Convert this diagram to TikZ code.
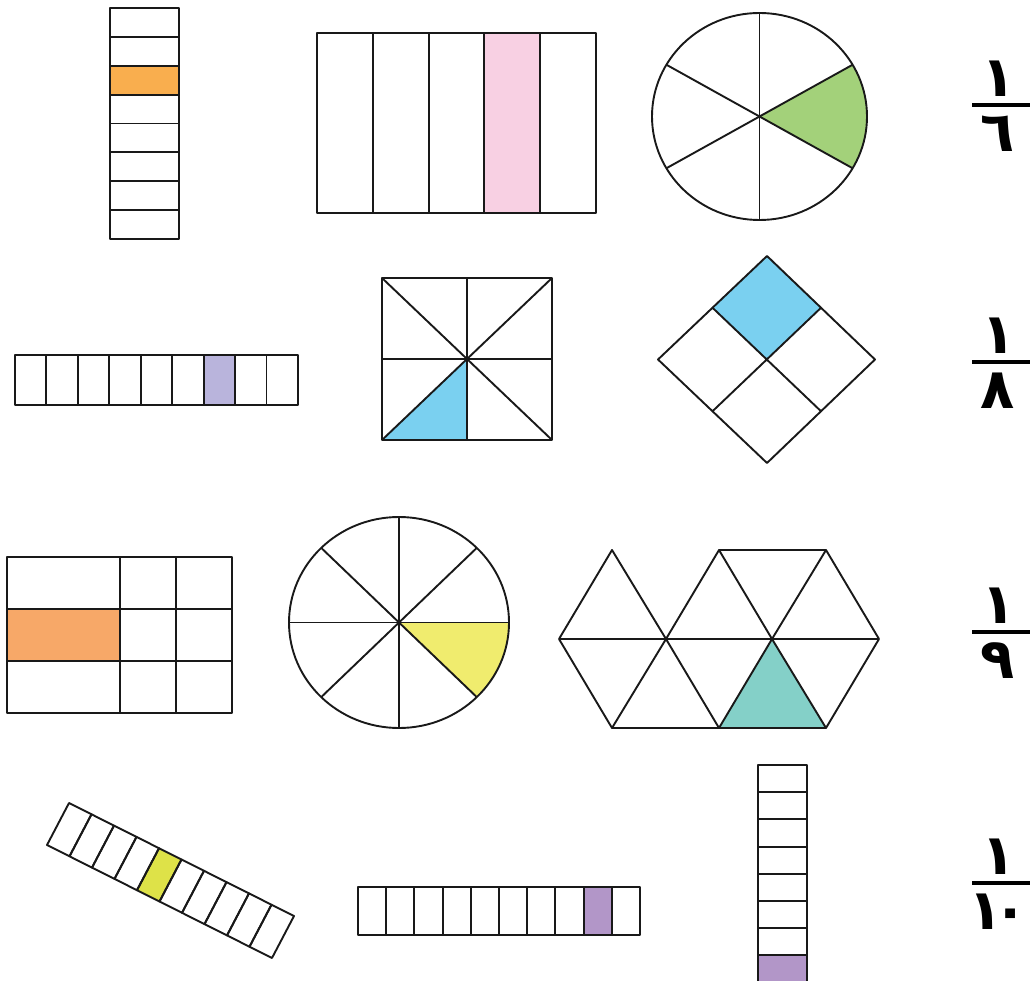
\documentclass[tikz,border=0pt]{standalone}
\usepackage{fontspec}
\newfontfamily\arabicfont[Script=Arabic]{DejaVu Sans}
\usetikzlibrary{calc}

\definecolor{orangeS}{RGB}{249,174,78}
\definecolor{pinkS}{RGB}{248,208,227}
\definecolor{greenS}{RGB}{163,209,122}
\definecolor{lavS}{RGB}{185,180,220}
\definecolor{blueS}{RGB}{122,208,240}
\definecolor{salmonS}{RGB}{247,168,104}
\definecolor{yellowS}{RGB}{240,236,110}
\definecolor{tealS}{RGB}{132,208,200}
\definecolor{limeS}{RGB}{222,226,72}
\definecolor{purpleS}{RGB}{178,150,200}

\begin{document}
\begin{tikzpicture}[x=1pt, y=-1pt, line join=round]
\tikzset{cell/.style={draw=black!90, line width=1.9pt}, num/.style={font=\arabicfont\bfseries\fontsize{56}{56}\selectfont, inner sep=0pt}, bar/.style={line width=3.5pt}}
\useasboundingbox (0,0) rectangle (1030,981);

% row 1/6
\fill[orangeS] (110,65.75) rectangle ++(69,28.875);
\foreach \i in {0,...,7} \draw[cell] (110,{8+28.875*\i}) rectangle ++(69,28.875);
\fill[pinkS] (484.4,33) rectangle ++(55.8,180);
\foreach \i in {0,...,4} \draw[cell] ({317+55.8*\i},33) rectangle ++(55.8,180);
\coordinate (c6) at (759.5,116.5);
\fill[greenS] (c6) -- ($(c6)+(-30:107.5 and 103.5)$) arc[start angle=-30, end angle=30, x radius=107.5, y radius=103.5] -- cycle;
\draw[cell] (c6) ellipse [x radius=107.5, y radius=103.5];
\foreach \a in {90,30,-30} \draw[cell] ($(c6)+(\a:107.5 and 103.5)$) -- ($(c6)+(\a+180:107.5 and 103.5)$);

% row 1/8
\fill[lavS] (203.4,355) rectangle ++(31.44,50);
\foreach \i in {0,...,8} \draw[cell] ({15+31.44*\i},355) rectangle ++(31.44,50);
\fill[blueS] (382,440) -- (467,359) -- (467,440) -- cycle;
\draw[cell] (382,278) rectangle (552,440);
\draw[cell] (467,278) -- (467,440) (382,359) -- (552,359) (382,278) -- (552,440) (382,440) -- (552,278);
\coordinate (T) at (767,256); \coordinate (L) at (658,359.5); \coordinate (R) at (875,359.5); \coordinate (B) at (767,463);
\coordinate (O) at (767,359.5);
\fill[blueS] (T) -- ($(T)!.5!(R)$) -- (O) -- ($(T)!.5!(L)$) -- cycle;
\draw[cell] (T) -- (R) -- (B) -- (L) -- cycle;
\draw[cell] ($(T)!.5!(L)$) -- ($(R)!.5!(B)$) ($(T)!.5!(R)$) -- ($(L)!.5!(B)$);

% row 1/9
\fill[salmonS] (7,609) rectangle (120,661);
\draw[cell] (7,557) rectangle (232,713);
\draw[cell] (7,609) -- (232,609) (7,661) -- (232,661) (120,557) -- (120,713) (176,557) -- (176,713);
\coordinate (c8) at (399,622.5);
\fill[yellowS] (c8) -- ($(c8)+(0:110 and 105.5)$) arc[start angle=0, end angle=45, x radius=110, y radius=105.5] -- cycle;
\draw[cell] (c8) ellipse [x radius=110, y radius=105.5];
\foreach \a in {0,45,90,135} \draw[cell] ($(c8)+(\a:110 and 105.5)$) -- ($(c8)+(\a+180:110 and 105.5)$);
\fill[tealS] (719,728) -- (772,639) -- (826,728) -- cycle;
\draw[cell] (559,639) -- (879,639) (719,550) -- (826,550) (612,728) -- (826,728);
\draw[cell] (559,639) -- (612,550) -- (666,639) -- (719,550) -- (772,639) -- (826,550) -- (879,639);
\draw[cell] (559,639) -- (612,728) -- (666,639) -- (719,728) -- (772,639) -- (826,728) -- (879,639);

% row 1/10
\fill[limeS] (159,848.2) -- ++(22.5,11.3) -- ++(-22,42) -- ++(-22.5,-11.3) -- cycle;
\foreach \i in {0,...,9} \draw[cell] ({69+22.5*\i},{803+11.3*\i}) -- ++(22.5,11.3) -- ++(-22,42) -- ++(-22.5,-11.3) -- cycle;
\fill[purpleS] (583.6,887) rectangle ++(28.2,48);
\foreach \i in {0,...,9} \draw[cell] ({358+28.2*\i},887) rectangle ++(28.2,48);
\fill[purpleS] (758,955.4) rectangle ++(49,27.2);
\foreach \i in {0,...,7} \draw[cell] (758,{765+27.2*\i}) rectangle ++(49,27.2);

% fractions
\foreach \d/\y/\nm in {٦/105/fa, ٨/362/fb, ٩/632/fc, {١\kern-9pt ٠}/883/fd} {
  \node[num] (\nm n) at (999,\y-26) {١};
  \node[num] (\nm d) at (998,\y+29) {\d};
  \draw[bar] (972,\y) -- (1030,\y);
}
\end{tikzpicture}
\end{document}
